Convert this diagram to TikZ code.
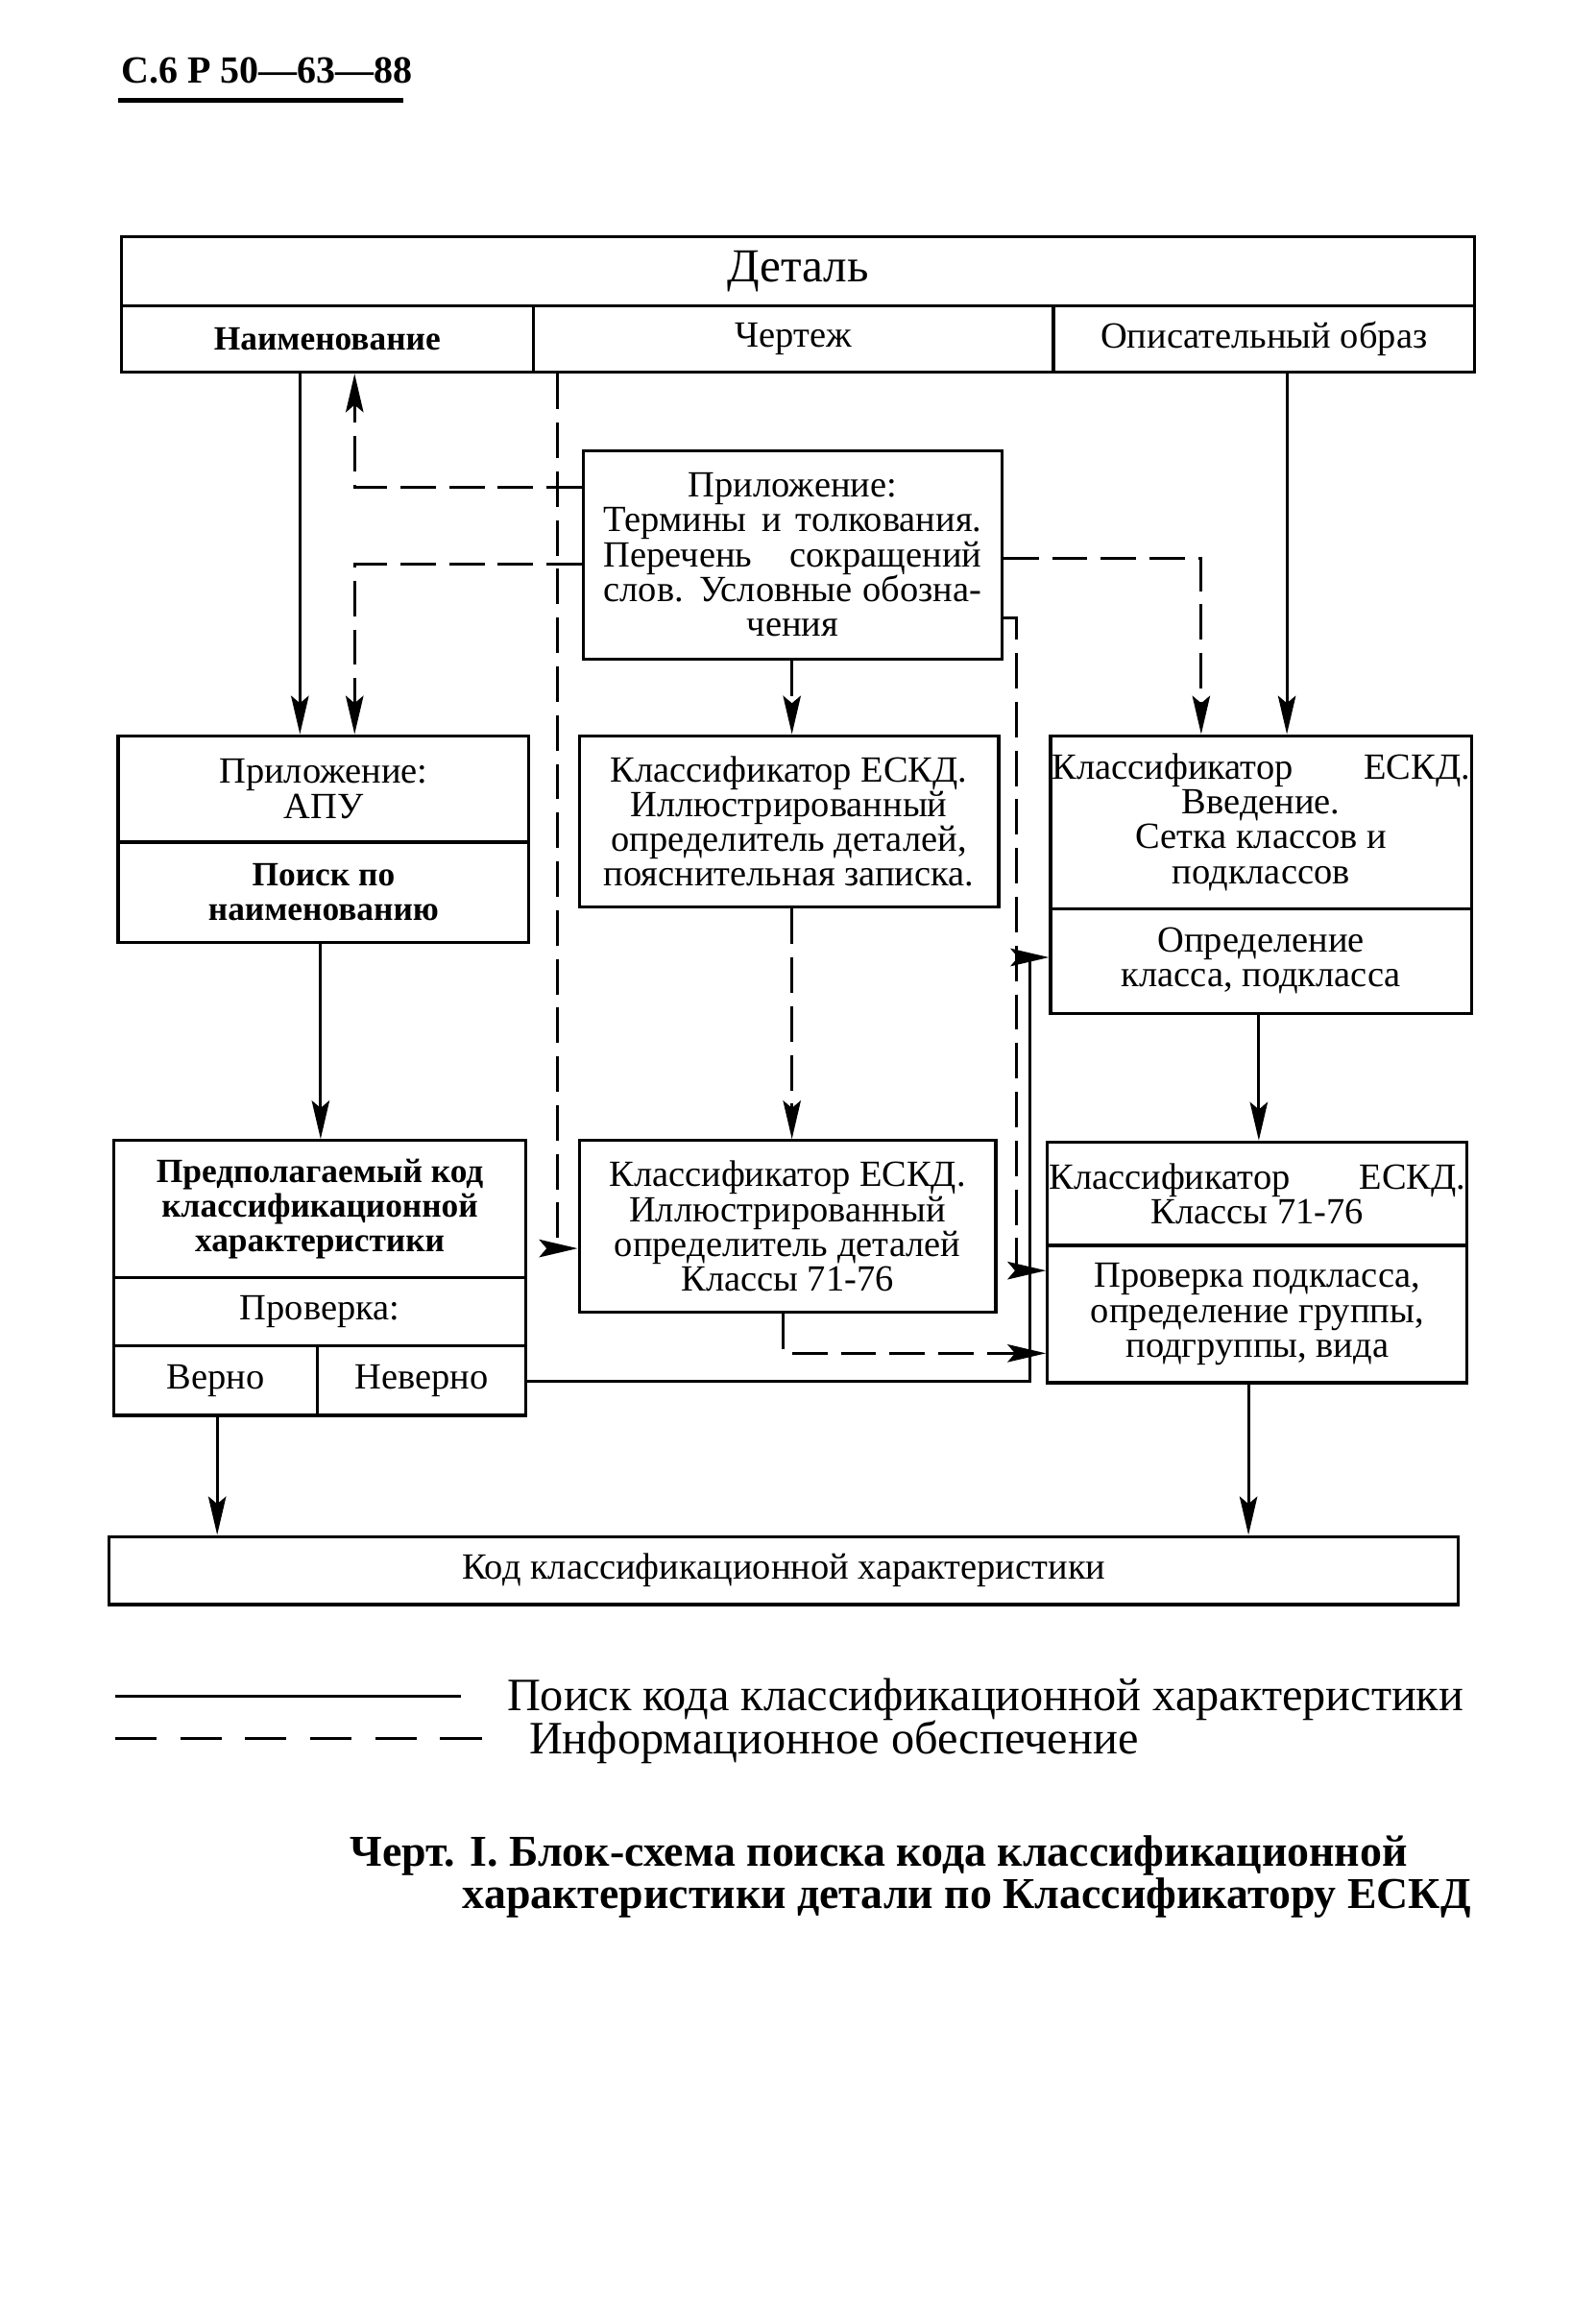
\documentclass[tikz,border=0pt]{standalone}
\usepackage{fontspec}
\setmainfont{Liberation Serif}
\usetikzlibrary{arrows.meta}
\begin{document}
\begin{tikzpicture}[x=1pt,y=-1pt,
  box/.style={draw, line width=2.1pt, inner sep=0pt, align=center, font=\fontsize{25}{23.5}\selectfont},
  boldbox/.style={box, font=\bfseries\fontsize{23}{23.5}\selectfont},
  arr/.style={line width=1.9pt, -{Stealth[length=26pt,width=12pt,inset=5pt]}},
  dsh/.style={dash pattern=on 24pt off 9pt}]
\useasboundingbox (0,0) rectangle (1080,1569);
% header
\node[anchor=base west, inner sep=0pt, font=\bfseries\fontsize{26}{26}\selectfont] (hdr) at (82,56) {С.6 Р 50—63—88};
\coordinate (u1) at (80,68);
\coordinate (u2) at (273,68);
\draw[line width=2.8pt] (u1) -- (u2);
% top block
\node[box, minimum width=916pt, minimum height=47pt, font=\fontsize{32}{32}\selectfont] (detal) at (540,183.5) {Деталь};
\node[boldbox, minimum width=279pt, minimum height=45pt] (naim) at (221.5,229.5) {Наименование};
\node[box, minimum width=352pt, minimum height=45pt] (chert) at (537,229.5) {Чертеж};
\node[box, minimum width=285pt, minimum height=45pt] (opis) at (855.5,229.5) {Описательный образ};
% appendix box
\node[box, minimum width=283pt, minimum height=141pt] (pril) at (536.5,375.5)
 {Приложение:\\\makebox[256pt][s]{Термины и толкования.}\\\makebox[256pt][s]{Перечень сокращений}\\\makebox[256pt][s]{слов. Условные обозна-}\\чения};
% APU
\node[box, minimum width=278pt, minimum height=72pt] (apu1) at (219,534) {Приложение:\\АПУ};
\node[boldbox, minimum width=278pt, minimum height=68pt] (apu2) at (219,604) {Поиск по\\наименованию};
% ESKD illustrated
\node[box, minimum width=284pt, minimum height=116pt] (esk1) at (534,556) {Классификатор ЕСКД.\\Иллюстрированный\\определитель деталей,\\пояснительная записка.};
% ESKD intro
\node[box, minimum width=285pt, minimum height=117pt] (vved1) at (853.5,556.5) {\makebox[283pt][s]{Классификатор ЕСКД.}\\Введение.\\Сетка классов и\\подклассов};
\node[box, minimum width=285pt, minimum height=71pt] (vved2) at (853.5,650.5) {Определение\\класса, подкласса};
% predicted code
\node[boldbox, minimum width=279pt, minimum height=93pt] (pred1) at (216.5,818.5) {Предполагаемый код\\классификационной\\характеристики};
\node[box, minimum width=279pt, minimum height=46pt] (pred2) at (216.5,888) {Проверка:};
\node[box, minimum width=138pt, minimum height=47pt] (verno) at (146,934.5) {Верно};
\node[box, minimum width=141pt, minimum height=47pt] (neverno) at (285.5,934.5) {Неверно};
% ESKD classes 71-76 middle
\node[box, minimum width=282pt, minimum height=116pt] (esk2) at (533,830) {Классификатор ЕСКД.\\Иллюстрированный\\определитель деталей\\Классы 71-76};
% ESKD classes right
\node[box, minimum width=284pt, minimum height=70pt] (kl1) at (851,808) {\makebox[282pt][s]{Классификатор ЕСКД.}\\Классы 71-76};
\node[box, minimum width=284pt, minimum height=93pt] (kl2) at (851,889.5) {Проверка подкласса,\\определение группы,\\подгруппы, вида};
% code
\node[box, minimum width=913pt, minimum height=46pt] (kod) at (530.5,1063) {Код классификационной характеристики};
% helper coordinates
\coordinate (c1) at (203,0);
\coordinate (c2) at (240,0);
\coordinate (c3) at (377,0);
\coordinate (c4) at (536,0);
\coordinate (c5) at (813,0);
\coordinate (c6) at (871,0);
\coordinate (c7) at (688,0);
\coordinate (c8) at (217,0);
\coordinate (c9) at (697,0);
\coordinate (c10) at (530,0);
\coordinate (c11) at (852,0);
\coordinate (c12) at (147,0);
\coordinate (c13) at (845,0);
\coordinate (r1) at (0,330);
\coordinate (r2) at (0,382);
\coordinate (r3) at (0,845);
\coordinate (r4) at (0,378);
\coordinate (r5) at (0,418);
\coordinate (r6) at (0,860);
\coordinate (r7) at (0,935);
\coordinate (r8) at (0,648);
\coordinate (r9) at (0,916);
% connectors
\draw[arr] (c1 |- naim.south) -- (c1 |- apu1.north);
\draw[arr,dsh] (pril.west |- r1) -- (c2 |- r1) -- (c2 |- naim.south);
\draw[arr,dsh] (pril.west |- r2) -- (c2 |- r2) -- (c2 |- apu1.north);
\draw[arr,dsh] (c3 |- chert.south) -- (c3 |- r3) -- (esk2.west |- r3);
\draw[arr,dsh] (c4 |- pril.south) -- (c4 |- esk1.north);
\draw[arr,dsh] (pril.east |- r4) -- (c5 |- r4) -- (c5 |- vved1.north);
\draw[arr] (c6 |- opis.south) -- (c6 |- vved1.north);
\draw[arr,dsh] (pril.east |- r5) -- (c7 |- r5) -- (c7 |- r6) -- (kl2.west |- r6);
\draw[arr,dsh] (c4 |- esk1.south) -- (c4 |- esk2.north);
\draw[arr] (c8 |- apu2.south) -- (c8 |- pred1.north);
\draw[arr] (neverno.east |- r7) -- (c9 |- r7) -- (c9 |- r8) -- (vved2.west |- r8);
\draw[arr,dsh] (c10 |- esk2.south) -- (c10 |- r9) -- (kl2.west |- r9);
\draw[arr] (c11 |- vved2.south) -- (c11 |- kl1.north);
\draw[arr] (c12 |- verno.south) -- (c12 |- kod.north);
\draw[arr] (c13 |- kl2.south) -- (c13 |- kod.north);
% legend
\node[anchor=base west, inner sep=0pt, font=\fontsize{31.4}{31.4}\selectfont] (leg1) at (343,1158) {Поиск кода классификационной характеристики};
\node[anchor=base west, inner sep=0pt, font=\fontsize{31.4}{31.4}\selectfont] (leg2) at (358,1187) {Информационное обеспечение};
\coordinate (l1) at (78,1148);
\coordinate (l2) at (312,1148);
\coordinate (l3) at (78,1177);
\coordinate (l4) at (330,1177);
\draw[line width=1.9pt] (l1) -- (l2);
\draw[line width=1.9pt, dash pattern=on 28pt off 16pt] (l3) -- (l4);
% caption
\node[anchor=base west, inner sep=0pt, font=\bfseries\fontsize{29.8}{29.8}\selectfont] (cap1) at (237,1263) {Черт. I. Блок-схема поиска кода классификационной};
\node[anchor=base west, inner sep=0pt, font=\bfseries\fontsize{29.8}{29.8}\selectfont] (cap2) at (313,1292) {характеристики детали по Классификатору ЕСКД};
\end{tikzpicture}
\end{document}
